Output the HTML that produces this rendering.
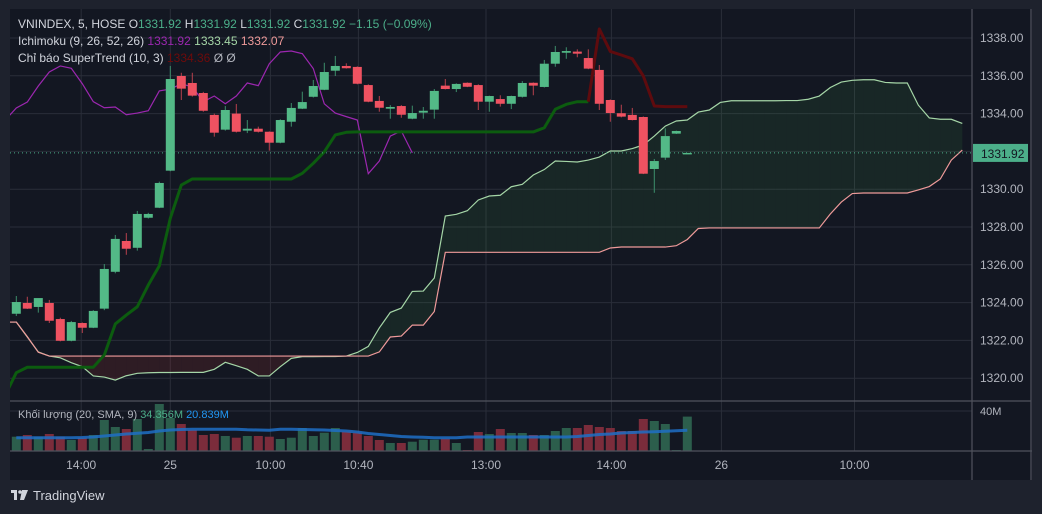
<!DOCTYPE html>
<html><head><meta charset="utf-8">
<style>
html,body{margin:0;padding:0;background:#1e222d;}
svg{display:block;font-family:"Liberation Sans",sans-serif;}
</style></head>
<body>
<svg id="chart" width="1042" height="514" viewBox="0 0 1042 514" xmlns="http://www.w3.org/2000/svg">
<defs>
<clipPath id="mainClip"><rect x="10" y="10" width="962" height="391"/></clipPath>
<clipPath id="volClip"><rect x="10" y="402" width="962" height="49"/></clipPath>
</defs>
<rect x="0" y="0" width="1042" height="514" fill="#1e222d"/>
<rect x="10" y="9" width="1022" height="471" fill="#131722"/>
<g id="grid"></g>
<g id="cloud" clip-path="url(#mainClip)"></g>
<g id="lines" clip-path="url(#mainClip)"></g>
<g id="candles" clip-path="url(#mainClip)"></g>
<g id="volume" clip-path="url(#volClip)"></g>
<g id="axes"></g>
<g id="legend">
<text x="18" y="28" font-size="12" fill="#d1d4dc">VNINDEX, 5, HOSE <tspan fill="#d1d4dc">O</tspan><tspan fill="#4caf8a">1331.92</tspan> <tspan fill="#d1d4dc">H</tspan><tspan fill="#4caf8a">1331.92</tspan> <tspan fill="#d1d4dc">L</tspan><tspan fill="#4caf8a">1331.92</tspan> <tspan fill="#d1d4dc">C</tspan><tspan fill="#4caf8a">1331.92 −1.15 (−0.09%)</tspan></text>
<text x="18" y="45" font-size="12" fill="#d1d4dc">Ichimoku (9, 26, 52, 26) <tspan fill="#9c27b0">1331.92</tspan> <tspan fill="#a5d6a7">1333.45</tspan> <tspan fill="#ef9a9a">1332.07</tspan></text>
<text x="18" y="62" font-size="12" fill="#d1d4dc">Chỉ báo SuperTrend (10, 3) <tspan fill="#6e0b0b">1334.36</tspan> <tspan fill="#b2b5be">Ø</tspan> <tspan fill="#b2b5be">Ø</tspan></text>
<text x="18" y="418" font-size="11" fill="#b2b5be">Khối lượng (20, SMA, 9) <tspan fill="#4caf8a">34.356M</tspan> <tspan fill="#2196f3">20.839M</tspan></text>
</g>
<g>
<rect x="11" y="490" width="6" height="3" fill="#d1d4dc"/>
<rect x="14" y="490" width="3" height="10" fill="#d1d4dc"/>
<circle cx="20" cy="492" r="1.8" fill="#d1d4dc"/>
<path d="M22 490 L28 490 L24 500 L20 500 Z" fill="#d1d4dc"/>
<text x="33" y="500" font-size="13" fill="#d1d4dc">TradingView</text>
</g>
</svg>
<script>
const NS="http://www.w3.org/2000/svg";
// ---- data ----
const openP=[1323.41,1323.98,1323.77,1323.98,1323.13,1321.98,1322.92,1322.67,1323.68,1325.63,1327.26,1326.9,1328.49,1329.02,1330.98,1335.99,1335.62,1335.09,1333.93,1333.15,1334.0,1333.1,1333.2,1333.04,1332.46,1333.57,1334.26,1334.89,1335.26,1336.27,1336.52,1336.47,1335.51,1334.67,1334.26,1334.4,1333.73,1334.05,1334.21,1335.48,1335.3,1335.63,1335.51,1334.63,1334.77,1334.52,1334.89,1335.63,1335.41,1336.64,1337.22,1337.28,1336.94,1336.31,1334.72,1334.02,1333.93,1333.82,1331.07,1331.67,1332.94,1331.92];
const highP=[1324.35,1324.31,1324.2,1324.14,1323.2,1323.03,1322.95,1323.6,1326.04,1327.58,1327.68,1328.85,1328.75,1330.4,1336.52,1336.16,1336.16,1335.15,1334.0,1334.4,1334.51,1333.66,1333.31,1333.06,1333.7,1334.56,1335.16,1335.78,1336.69,1337.05,1336.66,1336.5,1335.55,1334.93,1334.45,1334.45,1334.42,1334.35,1335.3,1335.83,1335.6,1335.65,1335.55,1334.95,1334.97,1334.95,1335.72,1335.65,1336.84,1337.58,1337.51,1337.4,1337.4,1336.57,1334.75,1334.47,1334.3,1333.85,1331.6,1333.22,1333.1,1331.92];
const lowP=[1323.29,1323.66,1323.47,1322.92,1321.95,1321.95,1322.39,1322.65,1323.6,1325.55,1326.53,1326.75,1328.45,1329.0,1330.95,1334.72,1334.9,1334.1,1332.78,1333.1,1333.0,1332.97,1333.0,1332.04,1332.43,1333.31,1334.24,1334.85,1335.24,1335.99,1336.38,1335.55,1334.6,1334.1,1333.73,1333.78,1333.7,1333.73,1333.73,1335.28,1335.14,1335.4,1334.19,1334.1,1334.37,1334.24,1334.85,1334.97,1335.38,1336.48,1336.9,1336.98,1336.35,1334.19,1333.57,1333.8,1333.64,1330.8,1329.81,1331.55,1332.92,1331.92];
const closeP=[1324.03,1323.68,1324.24,1323.04,1321.98,1322.97,1322.67,1323.56,1325.78,1327.37,1326.85,1328.69,1328.69,1330.33,1335.83,1335.32,1334.95,1334.15,1332.99,1334.19,1333.04,1333.2,1333.04,1332.46,1333.66,1334.3,1334.61,1335.46,1336.2,1336.52,1336.4,1335.58,1334.63,1334.31,1334.35,1333.94,1334.03,1334.15,1335.2,1335.3,1335.57,1335.42,1334.63,1334.93,1334.52,1334.93,1335.62,1335.48,1336.64,1337.26,1337.31,1337.17,1336.38,1334.52,1334.03,1333.84,1333.66,1330.82,1331.49,1332.81,1333.08,1331.92];
const volumeM=[14.3,16,14.3,17,14.3,11,13.3,16,31,24,22,32,2,47,33,27,21,16,17,15,13.3,15,15,14.3,12,13.3,23,15,18.3,23,19.3,18.3,15,11,8,8,9.3,11.3,11.3,12.3,8,1,19,17,22,18,18,16,16,20,23,23,26,24,23,20,20,32,30,27,1,34.4];
const volumeSma=[13.3,13.3,13.3,13.3,13.3,13.3,13.5,14,15,16,17,17.7,18.5,20,21,21.5,21.7,21.7,21.7,21.7,21.7,21.2,21,20.7,21.7,21.7,21.5,21.3,21,20.5,20,19,17.5,16.5,15.5,14.5,14,13.7,13.3,13.3,13.3,14,14,14,14,14,14,14,14,14,14,14.5,15.5,16.5,17,18,18.5,19,19.3,19.8,20.3,20.8];
// leading spans start at index -1
const spanA=[1322.97,1322.97,1322.18,1321.39,1321.17,1321.08,1320.82,1320.61,1320.12,1320.06,1319.9,1320.13,1320.26,1320.29,1320.3,1320.3,1320.31,1320.31,1320.31,1320.47,1320.84,1320.66,1320.47,1320.12,1320.12,1320.61,1321.05,1321.14,1321.14,1321.15,1321.15,1321.17,1321.36,1321.68,1322.66,1323.48,1323.71,1324.59,1324.61,1325.3,1328.58,1328.67,1328.86,1329.43,1329.64,1329.68,1330.13,1330.26,1330.75,1331.04,1331.49,1331.47,1331.44,1331.54,1331.7,1332.02,1332.02,1332.15,1332.34,1332.81,1333.34,1333.61,1333.66,1334.08,1334.19,1334.59,1334.68,1334.68,1334.68,1334.68,1334.68,1334.69,1334.69,1334.76,1334.93,1335.38,1335.67,1335.76,1335.79,1335.79,1335.65,1335.62,1335.62,1334.45,1333.77,1333.7,1333.7,1333.48];
const spanB=[1322.97,1322.97,1322.2,1321.37,1321.17,1321.17,1321.17,1321.17,1321.17,1321.17,1321.17,1321.17,1321.17,1321.17,1321.17,1321.17,1321.17,1321.17,1321.17,1321.17,1321.17,1321.17,1321.17,1321.17,1321.17,1321.17,1321.17,1321.17,1321.17,1321.17,1321.17,1321.17,1321.17,1321.17,1321.39,1322.18,1322.23,1322.81,1322.81,1323.53,1326.66,1326.66,1326.66,1326.66,1326.66,1326.66,1326.66,1326.66,1326.66,1326.66,1326.66,1326.66,1326.66,1326.66,1326.66,1326.89,1326.94,1326.94,1326.94,1326.94,1326.94,1327.01,1327.34,1327.92,1327.95,1327.95,1327.95,1327.95,1327.95,1327.95,1327.95,1327.95,1327.95,1327.95,1327.95,1328.69,1329.32,1329.77,1329.8,1329.8,1329.8,1329.8,1329.8,1329.96,1330.14,1330.54,1331.54,1332.07];
// supertrend starts at index -1
const stUp=[1319.11,1320.29,1320.58,1320.58,1320.58,1320.58,1320.58,1320.58,1320.58,1321.23,1322.87,1323.34,1323.78,1324.93,1325.94,1328.46,1330.22,1330.54,1330.54,1330.54,1330.54,1330.54,1330.54,1330.54,1330.54,1330.54,1330.54,1330.84,1331.37,1331.98,1332.87,1333.01,1333.03,1333.03,1333.03,1333.03,1333.03,1333.03,1333.03,1333.03,1333.03,1333.03,1333.03,1333.03,1333.03,1333.03,1333.03,1333.03,1333.03,1333.25,1334.23,1334.49,1334.63,1334.63];
const stDownStart=52;
const stDown=[1334.63,1338.48,1337.29,1337.1,1336.9,1335.99,1334.4,1334.37,1334.37,1334.37];
const chikouShift=25;
const priceTicks=[1338,1336,1334,1332,1330,1328,1326,1324,1322,1320];
const timeLabels=["14:00","25","10:00","10:40","13:00","14:00","26","10:00"];
const timeIdx=[5.9,14,23.1,31.1,42.7,54.1,64.1,76.2];
const lastPrice=1331.92;

// ---- scales ----
const X=i=>16.3+11*i;
const Y=p=>38+(1338-p)*18.9;
const VY=v=>451-v*1.0;
function el(tag,attrs,parent){const e=document.createElementNS(NS,tag);for(const k in attrs)e.setAttribute(k,attrs[k]);parent.appendChild(e);return e;}
const G=id=>document.getElementById(id);
const green="#53b987", red="#ef5261";

// grid
const grid=G('grid');
priceTicks.forEach(p=>{const l=el('line',{x1:10,x2:972,y1:Y(p),y2:Y(p),stroke:'#2a2e39','stroke-width':1},grid);

});
{const l=el('line',{x1:10,x2:972,y1:411,y2:411,stroke:'#2a2e39'},grid);

}
timeIdx.forEach(t=>{const l=el('line',{x1:X(t),x2:X(t),y1:9,y2:451,stroke:'#2a2e39'},grid);

});

// cloud
const cloud=G('cloud');
for(let k=0;k<spanA.length-1;k++){
  const i=k-1,a0=spanA[k],a1=spanA[k+1],b0=spanB[k],b1=spanB[k+1];
  const up=(a0+a1)>=(b0+b1);
  const q=el('polygon',{points:`${X(i)},${Y(a0)} ${X(i+1)},${Y(a1)} ${X(i+1)},${Y(b1)} ${X(i)},${Y(b0)}`,fill:up?'rgba(67,160,71,0.12)':'rgba(244,67,54,0.12)'},cloud);
  
  
}
const pA=el('polyline',{points:spanA.map((v,k)=>X(k-1)+','+Y(v)).join(' '),fill:'none',stroke:'#a5d6a7','stroke-width':1.2},cloud);


const pB=el('polyline',{points:spanB.map((v,k)=>X(k-1)+','+Y(v)).join(' '),fill:'none',stroke:'#ef9a9a','stroke-width':1.2},cloud);



// lines
const lines=G('lines');
const lag=[];for(let i=-1;i+chikouShift<closeP.length;i++)lag.push(X(i)+','+Y(closeP[i+chikouShift]));
const lg=el('polyline',{points:lag.join(' '),fill:'none',stroke:'#9c27b0','stroke-width':1.2},lines);


const su=el('polyline',{points:stUp.map((v,k)=>X(k-1)+','+Y(v)).join(' '),fill:'none',stroke:'#0c5c0f','stroke-width':3,'stroke-linejoin':'round'},lines);


const sd=el('polyline',{points:stDown.map((v,k)=>X(k+stDownStart)+','+Y(v)).join(' '),fill:'none',stroke:'#5e0b0e','stroke-width':3,'stroke-linejoin':'round'},lines);


const dl=el('line',{x1:10,x2:972,y1:Y(lastPrice),y2:Y(lastPrice),stroke:'#4caf8a','stroke-width':1,'stroke-dasharray':'1 3'},lines);



// candles
const cg=G('candles');
closeP.forEach((c,i)=>{
  const o=openP[i],up=c>=o,col=up?green:red,x=X(i);
  const w=el('line',{x1:x,x2:x,y1:Y(highP[i]),y2:Y(lowP[i]),stroke:up?'#3d8f6c':'#b8414e','stroke-width':1},cg);
  
  
  const top=Y(Math.max(o,c)),h=Math.max(1.5,Math.abs(Y(o)-Y(c)));
  const b=el('rect',{x:x-4.5,y:top,width:9,height:h,fill:col},cg);
  
  
});

// volume
const vg=G('volume');
volumeM.forEach((v,i)=>{
  const up=closeP[i]>=openP[i];
  const r=el('rect',{x:X(i)-4.5,y:VY(v),width:9,height:451-VY(v),fill:up?'#2c5e4c':'#7b2c3b'},vg);
  
  
});
const vs=el('polyline',{points:volumeSma.map((v,i)=>X(i)+','+VY(v)).join(' '),fill:'none',stroke:'#1f6fc5','stroke-width':3,'stroke-opacity':0.85},vg);



// axes
const ax=G('axes');
[[972,9,972,480],[10,401,972,401],[10,451,1032,451],[1031,9,1031,480]].forEach(([a,b,c,d])=>{
  const l=el('line',{x1:a,y1:b,x2:c,y2:d,stroke:'#50535e','stroke-width':1.2},ax);
  
  
});
{const l=el('line',{x1:972,y1:401,x2:1031,y2:401,stroke:'#50535e','stroke-width':1.2},ax);

}
priceTicks.forEach(p=>{const t=el('text',{x:980,y:Y(p)+4,'font-size':12,fill:'#b2b5be'},ax);t.textContent=p.toFixed(2);

});
{const t=el('text',{x:980,y:415,'font-size':11,fill:'#b2b5be'},ax);t.textContent='40M';

}
timeLabels.forEach((s,k)=>{const t=el('text',{x:X(timeIdx[k]),y:469,'font-size':12,fill:'#b2b5be','text-anchor':'middle'},ax);t.textContent=s;

});
const pb=el('rect',{x:973,y:Y(lastPrice)-9,width:55,height:18,fill:'#4caf8a'},ax);


const pt=el('text',{x:981,y:Y(lastPrice)+5,'font-size':12,fill:'#131722'},ax);pt.textContent=lastPrice.toFixed(2);


</script>
</body></html>
